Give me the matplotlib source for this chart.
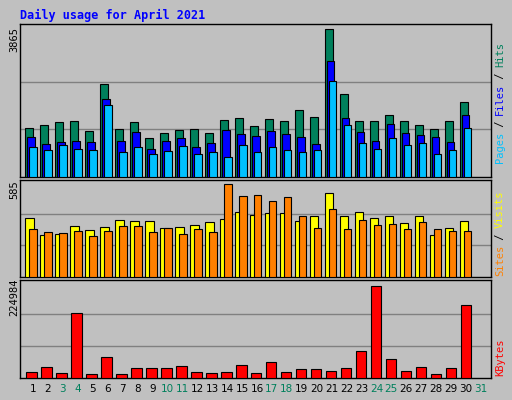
import matplotlib
matplotlib.use("Agg")
import matplotlib.pyplot as plt
import numpy as np

days = list(range(1, 32))
weekend = [3, 4, 10, 11, 17, 18, 24, 25, 31]
hits = [1246,1322,1399,1424,1170,2339,1221,1399,992,1119,1195,1221,1119,1449,1500,1297,1475,1424,1704,1526,3738,2085,1424,1424,1577,1424,1322,1221,1424,1907]
files = [1017,839,890,915,890,1983,915,1144,712,915,992,763,865,1195,1093,1043,1170,1093,1017,839,2924,1500,1144,915,1348,1119,1068,1017,890,1577]
pages = [763,687,814,712,687,1831,636,763,585,661,788,585,636,509,814,636,763,687,636,687,2416,1322,865,712,992,814,865,585,687,1246]
sites = [375,267,273,324,299,318,362,356,356,312,318,331,350,369,407,394,401,401,356,382,528,388,413,375,382,343,382,267,312,356]
visits = [305,286,280,292,261,292,324,324,286,312,273,305,286,585,509,515,477,502,382,312,432,305,362,331,337,305,350,305,292,292]
kbytes = [14830,27200,12360,158200,9890,51900,9890,24720,24720,24720,29660,14830,12360,14830,32140,12360,39550,14830,22250,22250,17300,24720,66740,224984,46970,17300,27200,9890,24720,178000]

W, H = 512, 400
fig = plt.figure(figsize=(W/100, H/100), dpi=100, facecolor="#c0c0c0")
mono = "DejaVu Sans Mono"
x = np.arange(1, len(hits)+1)

def panel(top, bottom):
    ax = fig.add_axes([20/W, 1-bottom/H, 471/W, (bottom-top)/H])
    ax.set_facecolor("#c0c0c0")
    ax.set_xlim(0.13, 31.55)
    ax.set_xticks([]); ax.set_yticks([])
    for s in ax.spines.values():
        s.set_color("black"); s.set_linewidth(1)
    return ax

def bars(ax, vals, left, width, color):
    ax.bar(x + left, vals, width=width, align="edge", color=color, edgecolor="black", linewidth=0.8, zorder=3)

def grid(ax, ymax):
    for f in (1/3, 2/3):
        ax.axhline(ymax*f, color="#808080", lw=1, zorder=1)

ax1 = panel(24, 177)
ax1.set_ylim(0, 3865)
grid(ax1, 3600)
bars(ax1, hits, -0.53, 0.53, "#00805c")
bars(ax1, files, -0.38, 0.49, "#0000ff")
bars(ax1, pages, -0.27, 0.51, "#00c0ff")

ax2 = panel(180, 277)
ax2.set_ylim(0, 612)
grid(ax2, 585*1.02)
bars(ax2, sites, -0.53, 0.57, "#ffff00")
bars(ax2, visits, -0.27, 0.51, "#ff8000")

ax3 = panel(280, 378)
ax3.set_ylim(0, 240000)
grid(ax3, 240000*0.98)
bars(ax3, kbytes, -0.47, 0.71, "#ff0000")

fig.text(20/W, 1-15/H, "Daily usage for April 2021", color="#0000ff", family=mono,
         fontweight="bold", fontsize=8.5, va="center", ha="left")
for label, y in (("3865", 40), ("585", 190), ("224984", 297)):
    fig.text(14/W, 1-y/H, label, rotation=90, family=mono, fontsize=7.5, va="center", ha="center")

for d in days:
    fig.text((33 + (d-1)*14.93)/W, 1-389/H, str(d), family="DejaVu Sans", fontsize=7.5,
             color="#00805c" if d in weekend else "black", ha="center", va="center")

def side(parts, y_bottom):
    y = y_bottom
    for txt, col in parts:
        t = fig.text(500/W, 1-y/H, txt, rotation=90, family=mono, fontsize=7.5, color=col,
                     ha="center", va="bottom")
        y -= len(txt)*6.0

side([("Pages", "#00c0ff"), (" / ", "black"), ("Files", "#0000ff"), (" / ", "black"), ("Hits", "#00805c")], 163)
side([("Sites", "#ff8000"), (" / ", "black"), ("Visits", "#ffff00")], 276)
side([("KBytes", "#ff0000")], 376)

fig.savefig("out.png", dpi=100, facecolor=fig.get_facecolor())
